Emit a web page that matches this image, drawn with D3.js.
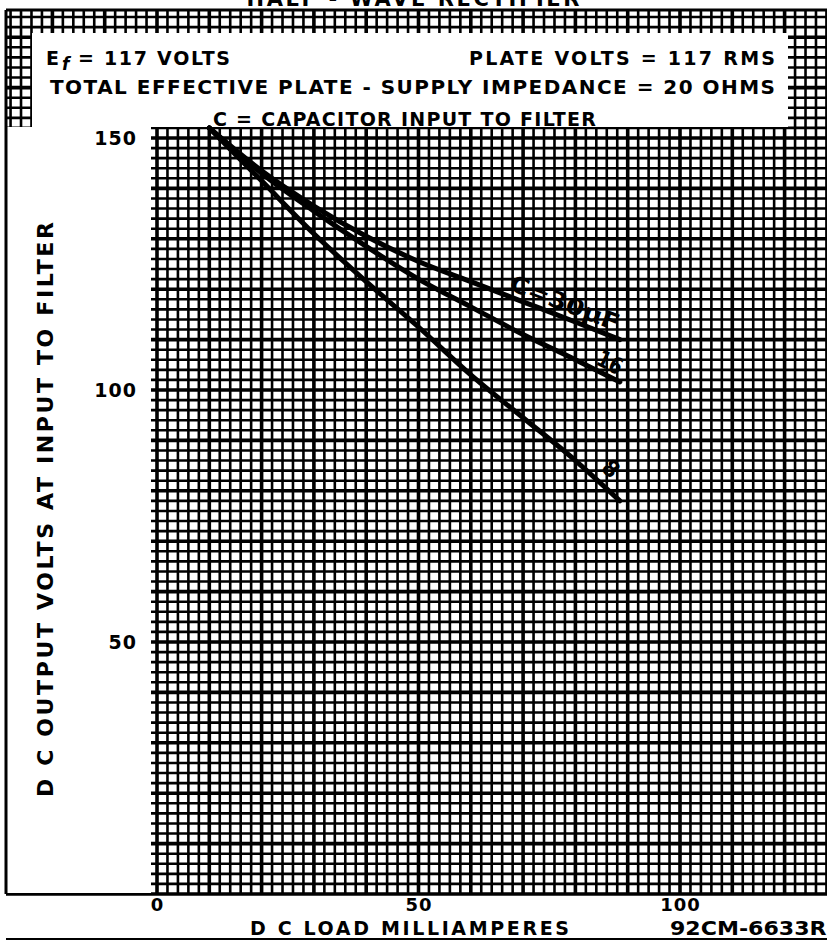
<!DOCTYPE html>
<html>
<head>
<meta charset="utf-8">
<script src="https://cdn.jsdelivr.net/npm/d3@7"></script>
<style>
  html, body { margin: 0; padding: 0; background: #fff; }
  svg { display: block; }
  text { font-family: "DejaVu Sans", "Liberation Sans", sans-serif; font-weight: bold; fill: #000; }
</style>
</head>
<body>
<svg id="chart" width="827" height="940"></svg>
<script>
// ---------- data ----------
const xTicks = [0, 50, 100];
const yTicks = [50, 100, 150];
const currents = [10, 20, 30, 40, 50, 60, 70, 80, 88.5];          // DC load mA
const volts30  = [152, 143.5, 136.5, 130.5, 125.5, 121.5, 117.5, 113.5, 110];
const volts16  = [152, 143, 135.5, 128.5, 122, 116.5, 111, 106, 101.6];
const volts8   = [152, 141.5, 131, 121.5, 112.5, 103, 94.5, 86, 78];
const seriesNames = ["C=30µF", "16", "8"];
const labelAt = [77, 85.5, 84.5];          // mA where each curve label sits

const headerLines = [
  "PLATE VOLTS = 117 RMS",
  "TOTAL EFFECTIVE PLATE - SUPPLY IMPEDANCE = 20 OHMS",
  "C = CAPACITOR INPUT TO FILTER"
];
const titleText = "HALF - WAVE RECTIFIER";
const xTitle = "D C LOAD MILLIAMPERES";
const yTitle = "D C OUTPUT VOLTS AT INPUT TO FILTER";
const figCode = "92CM-6633R1";

// ---------- scales ----------
const svg = d3.select("#chart");
const W = 827, H = 940;
const x = d3.scaleLinear().domain([0, 100]).range([157, 680]);
const y = d3.scaleLinear().domain([0, 150]).range([894, 138]);

svg.append("rect").attr("width", W).attr("height", H).attr("fill", "#fff");

// ---------- graph-paper grid ----------
const gridL = 6, gridR = W, gridT = 10, gridB = y(0);
const gxVals = d3.range(-30, 132, 2).filter(v => x(v) >= gridL && x(v) <= gridR);
const gyVals = d3.range(0, 180, 2).filter(v => y(v) >= gridT && y(v) <= gridB);
const grid = svg.append("g");
grid.selectAll(".vx").data(gxVals).join("line")
  .attr("x1", d => x(d)).attr("x2", d => x(d))
  .attr("y1", gridT).attr("y2", gridB)
  .attr("stroke", "#000").attr("stroke-width", d => d % 10 === 0 ? 3.6 : 2.6);
grid.selectAll(".hy").data(gyVals).join("line")
  .attr("y1", d => y(d)).attr("y2", d => y(d))
  .attr("x1", gridL).attr("x2", gridR)
  .attr("stroke", "#000").attr("stroke-width", d => d % 10 === 0 ? 3.6 : 2.6);

// white masks: header box and left margin
svg.append("rect").attr("x", 32).attr("y", 33).attr("width", 788 - 32).attr("height", 127 - 33).attr("fill", "#fff");
svg.append("rect").attr("x", gridL).attr("y", 127).attr("width", 151 - gridL).attr("height", gridB - 127 - 1).attr("fill", "#fff");

// frame lines
svg.append("line").attr("x1", gridL).attr("x2", gridR).attr("y1", gridT).attr("y2", gridT)
  .attr("stroke", "#000").attr("stroke-width", 3);
svg.append("line").attr("x1", gridL).attr("x2", gridL).attr("y1", gridT).attr("y2", gridB)
  .attr("stroke", "#000").attr("stroke-width", 3);
svg.append("line").attr("x1", gridL).attr("x2", 151).attr("y1", gridB).attr("y2", gridB)
  .attr("stroke", "#000").attr("stroke-width", 2).attr("stroke-dasharray", "5,2");
svg.append("line").attr("x1", gridL).attr("x2", W).attr("y1", 939).attr("y2", 939)
  .attr("stroke", "#000").attr("stroke-width", 2);

// ---------- curves ----------
const series = [volts30, volts16, volts8];
const line = d3.line().x(d => x(d[0])).y(d => y(d[1])).curve(d3.curveMonotoneX);
series.forEach((vals, i) => {
  const pts = currents.map((c, j) => [c, vals[j]]);
  svg.append("path").datum(pts).attr("d", line)
    .attr("fill", "none").attr("stroke", "#000").attr("stroke-width", 5)
    .attr("stroke-linecap", "round");
});

// curve labels, rotated along each curve
const labelOff = [14, 13, 18];
const labelLen = [116, 26, 15];
series.forEach((vals, i) => {
  const c = labelAt[i];
  const v = d3.scaleLinear().domain(currents).range(vals)(c);
  const v2 = d3.scaleLinear().domain(currents).range(vals)(c + 2);
  const px = x(c), py = y(v);
  const ang = Math.atan2(y(v2) - py, x(c + 2) - px) * 180 / Math.PI;
  svg.append("text")
    .attr("transform", `translate(${px},${py}) rotate(${ang})`)
    .attr("x", 0).attr("y", -labelOff[i] + 8)
    .attr("text-anchor", "middle")
    .attr("font-size", 23)
    .attr("textLength", labelLen[i]).attr("lengthAdjust", "spacingAndGlyphs")
    .text(seriesNames[i]);
});

// ---------- axes ----------
const xAxis = svg.append("g").attr("transform", `translate(0,${y(0)})`)
  .call(d3.axisBottom(x).tickValues(xTicks).tickSize(0).tickPadding(4).tickFormat(d3.format("d")));
xAxis.select(".domain").remove();
xAxis.selectAll("text").attr("font-size", 18).attr("font-family", "DejaVu Sans, sans-serif")
  .attr("font-weight", "bold").attr("letter-spacing", 1).attr("fill", "#000");

const yAxis = svg.append("g").attr("transform", `translate(${x(0)},0)`)
  .call(d3.axisLeft(y).tickValues(yTicks).tickSize(0).tickPadding(20).tickFormat(d3.format("d")));
yAxis.select(".domain").remove();
yAxis.selectAll("text").attr("font-size", 19).attr("font-family", "DejaVu Sans, sans-serif")
  .attr("font-weight", "bold").attr("letter-spacing", 1).attr("fill", "#000");

// ---------- texts ----------
svg.append("text").attr("x", 413).attr("y", 6).attr("text-anchor", "middle")
  .attr("font-size", 21).attr("textLength", 333).attr("lengthAdjust", "spacing").text(titleText);

// header box
svg.append("text").attr("x", 46).attr("y", 65).attr("font-size", 19).text("E");
svg.append("text").attr("x", 62).attr("y", 70).attr("font-size", 17).attr("font-style", "italic").text("f");
svg.append("text").attr("x", 78).attr("y", 65).attr("font-size", 19)
  .attr("textLength", 152).attr("lengthAdjust", "spacing").text("= 117 VOLTS");
svg.append("text").attr("x", 469).attr("y", 65).attr("font-size", 19)
  .attr("textLength", 306).attr("lengthAdjust", "spacing").text(headerLines[0]);
svg.append("text").attr("x", 50).attr("y", 94).attr("font-size", 20)
  .attr("textLength", 725).attr("lengthAdjust", "spacing").text(headerLines[1]);
svg.append("text").attr("x", 213).attr("y", 126).attr("font-size", 19)
  .attr("textLength", 383).attr("lengthAdjust", "spacing").text(headerLines[2]);

// axis titles
svg.append("text").attr("x", 250).attr("y", 935).attr("font-size", 19)
  .attr("textLength", 319).attr("lengthAdjust", "spacing").text(xTitle);
svg.append("text").attr("transform", "translate(53,797) rotate(-90)").attr("x", 0).attr("y", 0)
  .attr("font-size", 22).attr("textLength", 575).attr("lengthAdjust", "spacing").text(yTitle);
svg.append("text").attr("x", 670).attr("y", 935).attr("font-size", 19)
  .attr("textLength", 172).attr("lengthAdjust", "spacingAndGlyphs").text(figCode);
</script>
</body>
</html>
